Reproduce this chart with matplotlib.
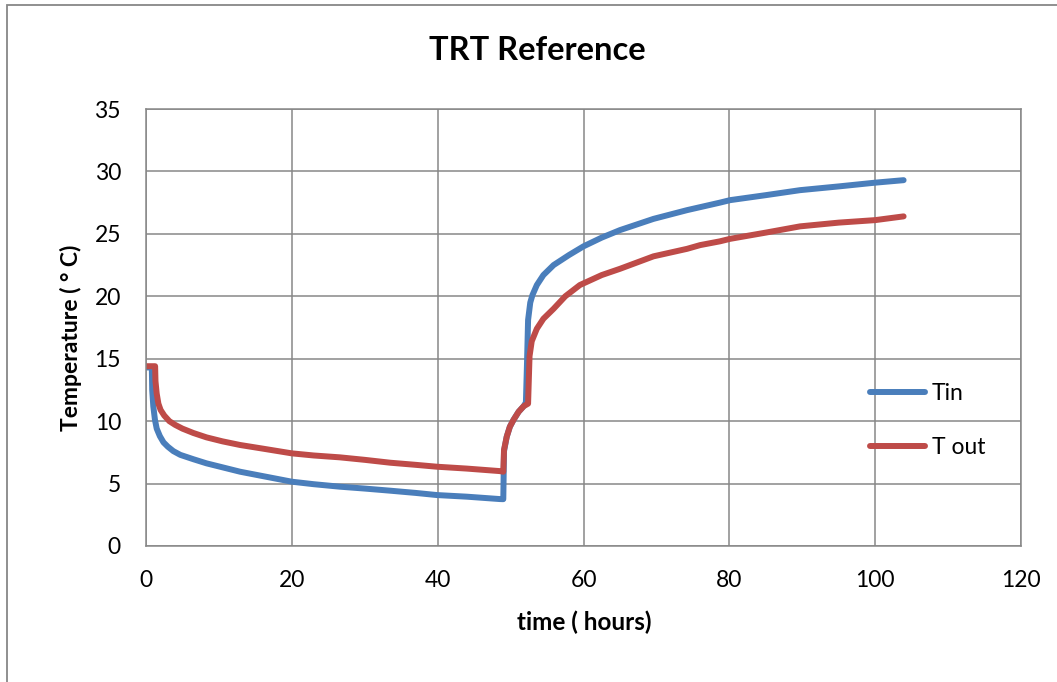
import matplotlib
matplotlib.use("Agg")
import matplotlib.pyplot as plt
from matplotlib.patches import Rectangle

# ---- data ----
tin_hours = [0, 0.8, 0.85, 1.0, 1.23, 1.47, 1.9, 2.4, 3.0, 3.75, 4.7, 6.5, 8.3, 10.5, 12.9,
             16, 20, 23, 26.6, 30, 33.5, 37, 39.9, 44, 48.5, 49.0, 49.1, 49.47, 49.9,
             50.4, 51.1, 51.8, 52.1, 52.25, 52.4, 52.7, 53.0, 53.6, 54.5, 55.9, 58, 60,
             62.5, 65, 69.6, 74.2, 78.7, 80.1, 85, 89.7, 95, 100, 103.9]
tin_values = [14.3, 14.3, 12.5, 11.2, 10.1, 9.4, 8.8, 8.3, 7.95, 7.6, 7.3, 6.95, 6.62, 6.3,
              5.95, 5.6, 5.15, 4.95, 4.75, 4.6, 4.43, 4.25, 4.08, 3.95, 3.76, 3.75, 7.6,
              8.75, 9.55, 10.1, 10.75, 11.2, 11.5, 14.6, 18.1, 19.5, 20.1, 20.9, 21.7, 22.5,
              23.3, 24.0, 24.7, 25.3, 26.2, 26.9, 27.5, 27.7, 28.1, 28.5, 28.8, 29.1, 29.3]

tout_hours = [0, 1.25, 1.3, 1.47, 1.7, 2.0, 2.5, 3.2, 4.0, 5.0, 6.5, 8.3, 10.5, 12.9, 16,
              20, 23, 26.6, 30, 33.5, 37, 39.9, 44, 48.5, 49.0, 49.1, 49.47, 49.9, 50.4,
              51.1, 51.8, 52.4, 52.6, 52.9, 53.6, 54.5, 55.9, 57.5, 59.5, 62.5, 65, 69.6,
              74.2, 76, 78.7, 80.1, 85, 89.7, 95, 100, 103.9]
tout_values = [14.4, 14.4, 13.2, 12.2, 11.4, 10.9, 10.45, 10.0, 9.7, 9.4, 9.05, 8.7, 8.38,
               8.09, 7.8, 7.42, 7.25, 7.1, 6.9, 6.67, 6.5, 6.35, 6.2, 6.0, 5.95, 7.7, 8.75,
               9.55, 10.1, 10.75, 11.2, 11.4, 15.2, 16.4, 17.4, 18.2, 19.0, 20.0, 20.9, 21.7,
               22.2, 23.2, 23.8, 24.1, 24.4, 24.6, 25.1, 25.6, 25.9, 26.1, 26.4]

x_ticks = [0, 20, 40, 60, 80, 100, 120]
y_ticks = [0, 5, 10, 15, 20, 25, 30, 35]

title = "TRT Reference"
xlabel = "time ( hours)"
ylabel = "Temperature ( ° C)"
series_names = ["Tin", "T out"]

# ---- style ----
plt.rcParams['font.family'] = ['Lato', 'DejaVu Sans']
W, H = 1057, 682
fig = plt.figure(figsize=(W / 100, H / 100), dpi=100)
grey = "#878787"
blue = "#4A7EBB"
red = "#BE4B48"

# outer chart border (left/top visible)
fig.patches.append(Rectangle((7 / W, -0.2), 2.0, 1 - 5 / H + 0.2, transform=fig.transFigure,
                             fill=False, edgecolor=grey, lw=1.3))

ax = fig.add_axes([146 / W, 1 - 546 / H, (1021 - 146) / W, (546 - 109) / H])
ax.set_xlim(0, 120)
ax.set_ylim(0, 35)
ax.set_xticks(x_ticks)
ax.set_yticks(y_ticks)
ax.grid(True, color=grey, lw=1.1)
ax.set_axisbelow(True)
for s in ax.spines.values():
    s.set_color(grey)
    s.set_linewidth(1.1)
ax.tick_params(length=0, labelsize=16.5, colors="black")
ax.tick_params(axis='y', pad=18)
ax.tick_params(axis='x', pad=17)

l1, = ax.plot(tin_hours, tin_values, color=blue, lw=4.3, solid_capstyle='round',
              solid_joinstyle='round', label=series_names[0])
l2, = ax.plot(tout_hours, tout_values, color=red, lw=4.3, solid_capstyle='round',
              solid_joinstyle='round', label=series_names[1])

fig.text(537 / W, 1 - 50 / H, title, ha='center', va='center', fontsize=23.5, fontweight='bold')
fig.text(584 / W, 1 - 622 / H, xlabel, ha='center', va='center', fontsize=17.5, fontweight='bold')
fig.text(71 / W, 1 - 338 / H, ylabel, ha='center', va='center', fontsize=16.5, fontweight='bold',
         rotation=90)

leg = fig.legend(handles=[l1, l2], loc='center left',
                 bbox_to_anchor=(870 / W, 1 - 420.5 / H), bbox_transform=fig.transFigure,
                 frameon=False, fontsize=16.5, handlelength=2.4, handletextpad=0.3,
                 labelspacing=1.45, borderpad=0, borderaxespad=0)

fig.savefig("out.png", dpi=100)
